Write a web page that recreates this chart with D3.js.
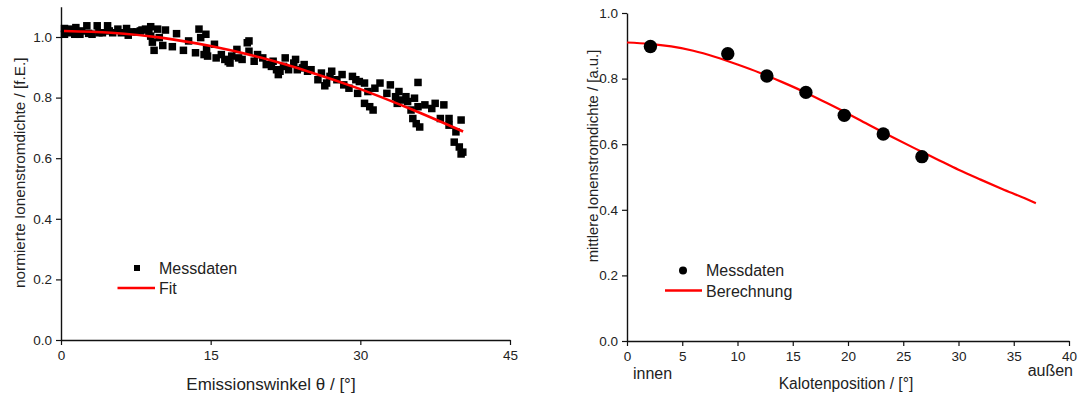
<!DOCTYPE html>
<html>
<head>
<meta charset="utf-8">
<script src="https://cdn.jsdelivr.net/npm/d3@7"></script>
<style>
  body { margin: 0; background: #fff; }
  svg text { font-family: "Liberation Sans", Arial, sans-serif; fill: #222; }
</style>
</head>
<body>
<div id="chart"></div>
<script>
// left panel: measured points (angle, normalised density)
var messX = [0.35, 0.35, 0.86, 0.86, 1.38, 1.49, 1.90, 2.07, 2.59, 2.77, 3.11, 3.63, 3.80, 4.15, 4.67, 4.84,
  5.18, 5.70, 6.05, 6.57, 6.74, 7.09, 7.60, 7.95, 8.12, 8.47, 8.81, 8.99, 8.99, 9.16, 9.33, 9.68, 9.85,
  10.20, 10.47, 11.16, 11.58, 12.27, 12.79, 13.48, 13.83, 14.00, 14.34, 14.52, 14.59, 14.69, 15.38,
  15.55, 16.07, 16.42, 16.76, 16.94, 17.11, 17.63, 17.80, 18.15, 18.67, 18.84, 18.84, 19.36, 19.70,
  20.22, 20.57, 21.09, 21.26, 21.60, 21.78, 21.95, 22.30, 22.47, 22.81, 23.33, 23.51, 23.68, 24.20,
  24.37, 24.71, 25.06, 25.75, 26.10, 26.44, 26.62, 26.96, 27.13, 27.65, 28.17, 28.34, 28.86, 29.21,
  29.55, 29.73, 29.90, 30.42, 30.42, 30.76, 30.94, 31.28, 31.46, 31.97, 32.66, 33.01, 33.53, 33.70,
  33.87, 34.22, 34.57, 34.74, 35.08, 35.26, 35.43, 35.60, 35.78, 35.95, 35.78, 36.47, 37.16, 37.50,
  38.02, 38.37, 38.89, 38.89, 39.41, 39.58, 39.92, 40.10, 40.10, 40.27];
var messY = [1.028, 1.009, 1.014, 1.026, 1.009, 1.031, 1.009, 1.020, 1.037, 1.012, 1.009, 1.037, 1.014, 1.014, 1.037, 1.020,
  1.014, 1.026, 1.014, 1.028, 1.006, 1.017, 1.017, 1.020, 1.023, 1.026, 1.017, 1.003, 1.034, 0.983, 0.956, 1.026, 0.998,
  0.972, 1.023, 0.968, 1.011, 0.956, 0.987, 0.948, 1.026, 0.998, 0.942, 1.009, 0.959, 0.937, 0.976,
  0.931, 0.942, 0.926, 0.919, 0.914, 0.937, 0.959, 0.931, 0.926, 0.981, 0.987, 0.953, 0.920, 0.942,
  0.931, 0.909, 0.903, 0.920, 0.892, 0.876, 0.887, 0.903, 0.931, 0.892, 0.914, 0.926, 0.892, 0.898,
  0.909, 0.887, 0.892, 0.859, 0.881, 0.839, 0.848, 0.870, 0.887, 0.859, 0.876, 0.842, 0.831, 0.870,
  0.859, 0.814, 0.853, 0.848, 0.781, 0.820, 0.770, 0.759, 0.831, 0.848, 0.814, 0.842, 0.803, 0.781,
  0.820, 0.792, 0.803, 0.787, 0.759, 0.731, 0.798, 0.714, 0.850, 0.703, 0.770, 0.776, 0.764, 0.781,
  0.731, 0.776, 0.731, 0.709, 0.653, 0.687, 0.637, 0.726, 0.614, 0.620];

// left panel: fit curve
var fitX = [0.3, 5, 10, 15, 20, 25, 30, 35, 40.3];
var fitY = [1.020, 1.014, 0.998, 0.970, 0.932, 0.884, 0.828, 0.763, 0.688];

// right panel: measured points (position, mean density)
var kalX = [2.12, 9.12, 12.66, 16.19, 19.66, 23.19, 26.69];
var kalY = [0.898, 0.876, 0.808, 0.758, 0.688, 0.631, 0.562];

// right panel: calculated curve
var calcX = [0, 2, 4, 6, 8, 10, 12, 14, 16, 18, 20, 22, 24, 26, 28, 30, 32, 34, 36, 37];
var calcY = [0.910, 0.906, 0.898, 0.885, 0.866, 0.843, 0.818, 0.790, 0.760, 0.727, 0.693, 0.657,
  0.622, 0.588, 0.555, 0.522, 0.492, 0.463, 0.435, 0.420];

var leftXTicks = [0, 15, 30, 45];
var rightXTicks = [0, 5, 10, 15, 20, 25, 30, 35, 40];
var yTicks = [0.0, 0.2, 0.4, 0.6, 0.8, 1.0];

var svg = d3.select("#chart").append("svg")
  .attr("width", 1080).attr("height", 394);

function axes(g, x, y, xMajor, xMinor, yMinor) {
  var fmt = d3.format(".1f");
  var xa = g.append("g").attr("transform", "translate(0," + y.range()[0] + ")");
  xa.call(d3.axisBottom(x).tickValues(xMinor).tickSize(3).tickFormat(""));
  xa.call(d3.axisBottom(x).tickValues(xMajor).tickSize(5).tickSizeOuter(0).tickPadding(5).tickFormat(d3.format("d")));
  var ya = g.append("g").attr("transform", "translate(" + x.range()[0] + ",0)");
  ya.call(d3.axisLeft(y).tickValues(yMinor).tickSize(3).tickFormat(""));
  ya.call(d3.axisLeft(y).tickValues(yTicks).tickSize(5).tickSizeOuter(0).tickPadding(4).tickFormat(fmt));
  g.selectAll(".domain").attr("stroke", "#111").attr("stroke-width", 1.4);
  g.selectAll(".tick line").attr("stroke", "#111").attr("stroke-width", 1.2);
  g.selectAll(".tick text").style("font-size", "13.5px").attr("fill", "#222");
  g.selectAll("g").attr("font-family", null);
}

////////////// left panel //////////////
var xL = d3.scaleLinear().domain([0, 45]).range([61, 510]);
var yL = d3.scaleLinear().domain([0, 1.1]).range([340, 6.7]);
var gL = svg.append("g");
axes(gL, xL, yL, leftXTicks, d3.range(0, 46, 5), d3.range(0, 1.11, 0.1));

var lineL = d3.line().curve(d3.curveMonotoneX)
  .x(function (d, i) { return xL(fitX[i]); })
  .y(function (d, i) { return yL(fitY[i]); });

gL.selectAll(".sq").data(messX).enter().append("rect")
  .attr("class", "sq")
  .attr("x", function (d) { return xL(d) - 3.75; })
  .attr("y", function (d, i) { return yL(messY[i]) - 3.75; })
  .attr("width", 7.5).attr("height", 7.5)
  .attr("fill", "#000");

gL.append("path").attr("d", lineL(fitX))
  .attr("fill", "none").attr("stroke", "#ff0000").attr("stroke-width", 2.6);

// legend
gL.append("rect").attr("x", 134).attr("y", 265).attr("width", 6).attr("height", 6).attr("fill", "#000");
gL.append("text").attr("x", 159).attr("y", 273.5).style("font-size", "16px").text("Messdaten");
gL.append("line").attr("x1", 117.5).attr("x2", 155).attr("y1", 288).attr("y2", 288)
  .attr("stroke", "#ff0000").attr("stroke-width", 2.4);
gL.append("text").attr("x", 159).attr("y", 294).style("font-size", "16px").text("Fit");

gL.append("text").attr("x", 271).attr("y", 390).attr("text-anchor", "middle")
  .style("font-size", "17px").text("Emissionswinkel θ / [°]");
gL.append("text").attr("transform", "translate(25,172.7) rotate(-90)").attr("text-anchor", "middle")
  .style("font-size", "15.3px").text("normierte Ionenstromdichte / [f.E.]");

////////////// right panel //////////////
var xR = d3.scaleLinear().domain([0, 40]).range([627, 1069]);
var yR = d3.scaleLinear().domain([0, 1.0]).range([341, 13]);
var gR = svg.append("g");
axes(gR, xR, yR, rightXTicks, d3.range(0, 40.1, 2.5), d3.range(0, 1.01, 0.1));

var lineR = d3.line().curve(d3.curveMonotoneX)
  .x(function (d, i) { return xR(calcX[i]); })
  .y(function (d, i) { return yR(calcY[i]); });

gR.append("path").attr("d", lineR(calcX))
  .attr("fill", "none").attr("stroke", "#ff0000").attr("stroke-width", 2.2);

gR.selectAll(".dot").data(kalX).enter().append("circle")
  .attr("class", "dot")
  .attr("cx", function (d) { return xR(d); })
  .attr("cy", function (d, i) { return yR(kalY[i]); })
  .attr("r", 6.7).attr("fill", "#000");

gR.append("circle").attr("cx", 683).attr("cy", 270.5).attr("r", 4).attr("fill", "#000");
gR.append("text").attr("x", 706).attr("y", 276).style("font-size", "16px").text("Messdaten");
gR.append("line").attr("x1", 665).attr("x2", 702).attr("y1", 290.5).attr("y2", 290.5)
  .attr("stroke", "#ff0000").attr("stroke-width", 2.4);
gR.append("text").attr("x", 706).attr("y", 297).style("font-size", "16px").text("Berechnung");

gR.append("text").attr("x", 633).attr("y", 378.5).style("font-size", "16px").text("innen");
gR.append("text").attr("x", 1073).attr("y", 376).attr("text-anchor", "end").style("font-size", "16px").text("außen");
gR.append("text").attr("x", 846).attr("y", 388.5).attr("text-anchor", "middle")
  .style("font-size", "15.6px").text("Kalotenposition / [°]");
gR.append("text").attr("transform", "translate(598,156) rotate(-90)").attr("text-anchor", "middle")
  .style("font-size", "14.9px").text("mittlere Ionenstromdichte / [a.u.]");
</script>
</body>
</html>
